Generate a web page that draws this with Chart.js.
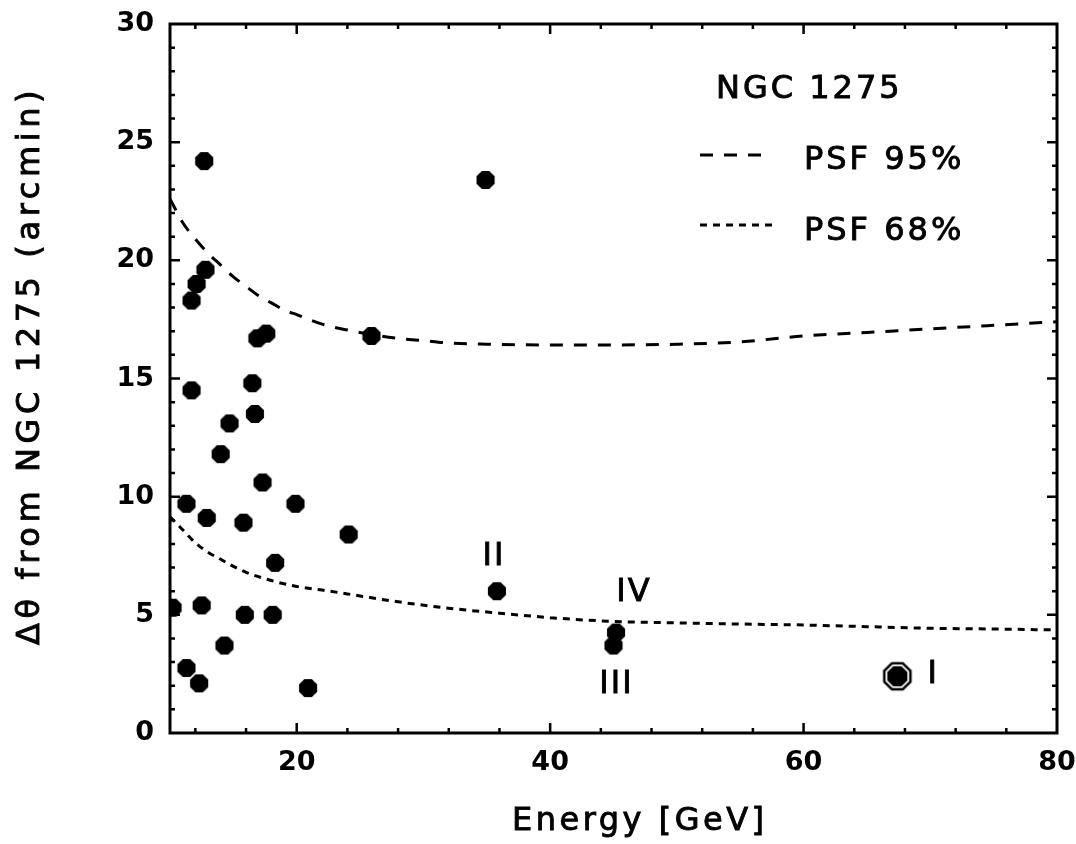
<!DOCTYPE html>
<html>
<head>
<meta charset="utf-8">
<title>NGC 1275 photon offsets</title>
<script src="https://cdn.jsdelivr.net/npm/chart.js@4.4.1/dist/chart.umd.min.js"></script>
<style>
  html, body { margin: 0; padding: 0; background: #fff; }
</style>
</head>
<body>
<canvas id="chart" width="1076" height="844"></canvas>
<script>
'use strict';

// photon energies (GeV) and offsets from NGC 1275 (arcmin)
var energy = [12.7, 34.9, 12.8, 12.1, 11.7, 17.6, 16.9, 25.9, 11.7, 16.5, 16.7, 14.7,
              14.0, 17.3, 11.3, 19.9, 12.9, 15.8, 24.1, 18.3, 35.8, 10.2, 12.5, 15.9,
              18.1, 14.3, 11.3, 12.3, 20.9, 45.2, 45.0];
var offset = [24.2, 23.4, 19.6, 19.0, 18.3, 16.9, 16.7, 16.8, 14.5, 14.8, 13.5, 13.1,
              11.8, 10.6, 9.7, 9.7, 9.1, 8.9, 8.4, 7.2, 6.0, 5.3, 5.4, 5.0,
              5.0, 3.7, 2.75, 2.1, 1.9, 4.25, 3.7];

// highest energy photon, marked "I"
var eventI = { x: 67.4, y: 2.4 };

// PSF containment radii
var psf95E = [10, 11, 12, 13, 14, 15, 16, 17, 18, 19, 20, 22, 24, 26, 28, 30, 32, 35, 40, 45, 50, 55, 60, 65, 70, 75, 80];
var psf95 = [22.6, 21.6, 20.9, 20.3, 19.8, 19.3, 18.9, 18.5, 18.2, 17.9, 17.7, 17.3, 17.05, 16.85, 16.7, 16.6, 16.5, 16.45, 16.42, 16.42, 16.45, 16.55, 16.8, 16.95, 17.1, 17.25, 17.4];
var psf68E = [10, 11, 12, 13, 14, 15, 16, 18, 20, 22, 25, 28, 32, 36, 40, 45, 50, 55, 60, 65, 70, 75, 80];
var psf68 = [9.15, 8.6, 8.05, 7.65, 7.35, 7.05, 6.8, 6.45, 6.2, 6.05, 5.8, 5.55, 5.28, 5.07, 4.88, 4.72, 4.66, 4.61, 4.57, 4.5, 4.43, 4.4, 4.36];

var xTicks = [20, 40, 60, 80];
var yTicks = [0, 5, 10, 15, 20, 25, 30];

var xTitle = 'Energy [GeV]';
var yTitle = 'Δθ from NGC 1275 (arcmin)';

var dash95 = [13, 11];
var dash68 = [7, 6];

function pairs(xs, ys) {
  return xs.map(function(x, i) { return { x: x, y: ys[i] }; });
}

function octagon(ctx, cx, cy, r) {
  ctx.beginPath();
  for (var k = 0; k < 8; k++) {
    var a = Math.PI / 8 + k * Math.PI / 4;
    var px = cx + r * Math.cos(a), py = cy + r * Math.sin(a);
    if (k === 0) ctx.moveTo(px, py); else ctx.lineTo(px, py);
  }
  ctx.closePath();
}

// filled octagon marker
var dot = document.createElement('canvas');
dot.width = 20; dot.height = 20;
(function() {
  var c = dot.getContext('2d');
  c.fillStyle = '#000';
  octagon(c, 10, 10, 9.8);
  c.fill();
})();

// ringed marker for event I
var ringDot = document.createElement('canvas');
ringDot.width = 32; ringDot.height = 32;
(function() {
  var c = ringDot.getContext('2d');
  c.fillStyle = '#000';
  octagon(c, 16, 16, 15.5);
  c.fill();
  c.fillStyle = '#fff';
  octagon(c, 16, 16, 12.8);
  c.fill();
  c.fillStyle = '#000';
  octagon(c, 16, 16, 10.8);
  c.fill();
})();

var TEXT_FONT = '32px "DejaVu Sans"';

// fill + thin stroke so the text looks as heavy as the original
function heavyText(ctx, txt, x, y) {
  ctx.fillText(txt, x, y);
  ctx.strokeText(txt, x, y);
}

var framePlugin = {
  id: 'frame',
  afterDraw: function(chart) {
    var ctx = chart.ctx, a = chart.chartArea;
    var xs = chart.scales.x, ys = chart.scales.y;
    ctx.save();
    ctx.strokeStyle = '#000';
    ctx.lineWidth = 3;
    ctx.strokeRect(a.left, a.top, a.right - a.left, a.bottom - a.top);

    // inward ticks on all four sides
    ctx.lineWidth = 2.5;
    ctx.beginPath();
    var v, p, len;
    for (v = 12; v < 80; v += 4) {
      p = xs.getPixelForValue(v);
      len = (v % 20 === 0) ? 10 : 5;
      ctx.moveTo(p, a.bottom); ctx.lineTo(p, a.bottom - len);
      ctx.moveTo(p, a.top); ctx.lineTo(p, a.top + len);
    }
    for (v = 1; v < 30; v++) {
      p = ys.getPixelForValue(v);
      len = (v % 5 === 0) ? 10 : 5;
      ctx.moveTo(a.left, p); ctx.lineTo(a.left + len, p);
      ctx.moveTo(a.right, p); ctx.lineTo(a.right - len, p);
    }
    ctx.stroke();

    ctx.fillStyle = '#000';
    ctx.font = TEXT_FONT;
    ctx.lineWidth = 0.9;
    ctx.textBaseline = 'middle';
    ctx.textAlign = 'left';

    // axis titles
    ctx.letterSpacing = '3.5px';
    heavyText(ctx, xTitle, 512, 822);
    ctx.save();
    ctx.translate(31, 645);
    ctx.rotate(-Math.PI / 2);
    ctx.letterSpacing = '4.6px';
    heavyText(ctx, yTitle, 0, 0);
    ctx.restore();

    // legend
    ctx.letterSpacing = '3px';
    heavyText(ctx, 'NGC 1275', 716, 90);
    heavyText(ctx, 'PSF 95%', 804, 161);
    heavyText(ctx, 'PSF 68%', 804, 232);
    ctx.lineWidth = 3;
    ctx.setLineDash(dash95);
    ctx.beginPath(); ctx.moveTo(700, 155); ctx.lineTo(768, 155); ctx.stroke();
    ctx.setLineDash(dash68);
    ctx.beginPath(); ctx.moveTo(700, 225); ctx.lineTo(776, 225); ctx.stroke();
    ctx.setLineDash([]);

    // event tags
    ctx.lineWidth = 0.9;
    ctx.textAlign = 'center';
    ctx.letterSpacing = '2px';
    var tag = function(txt, pt, dx, dy) {
      heavyText(ctx, txt, xs.getPixelForValue(pt.x) + dx, ys.getPixelForValue(pt.y) + dy);
    };
    tag('I', eventI, 36, -2);
    tag('II', { x: energy[20], y: offset[20] }, -3, -35);
    tag('IV', { x: energy[29], y: offset[29] }, 18, -40);
    tag('III', { x: energy[30], y: offset[30] }, 3, 39);
    ctx.restore();
  }
};

var tickFont = { family: 'DejaVu Sans', size: 27, weight: 'bold', lineHeight: 1 };

new Chart(document.getElementById('chart').getContext('2d'), {
  type: 'scatter',
  data: {
    datasets: [
      {
        label: 'PSF 95%',
        type: 'line',
        data: pairs(psf95E, psf95),
        borderColor: '#000',
        borderWidth: 3,
        borderDash: dash95,
        pointRadius: 0,
        fill: false,
        cubicInterpolationMode: 'monotone'
      },
      {
        label: 'PSF 68%',
        type: 'line',
        data: pairs(psf68E, psf68),
        borderColor: '#000',
        borderWidth: 3,
        borderDash: dash68,
        pointRadius: 0,
        fill: false,
        cubicInterpolationMode: 'monotone'
      },
      {
        label: 'events',
        data: pairs(energy, offset),
        pointStyle: dot,
        pointRadius: 10,
        backgroundColor: '#000',
        borderColor: '#000'
      },
      {
        label: 'event I',
        data: [eventI],
        pointStyle: ringDot,
        pointRadius: 16,
        backgroundColor: '#000',
        borderColor: '#000'
      }
    ]
  },
  options: {
    responsive: false,
    animation: false,
    layout: { padding: { top: 24, right: 19, left: 0, bottom: 0 } },
    plugins: {
      legend: { display: false },
      tooltip: { enabled: false }
    },
    scales: {
      x: {
        type: 'linear',
        min: 10,
        max: 80,
        afterBuildTicks: function(s) { s.ticks = xTicks.map(function(v) { return { value: v }; }); },
        afterFit: function(s) { s.height = 111; s.paddingLeft = 0; s.paddingRight = 0; },
        grid: { display: false, drawTicks: false },
        border: { display: false },
        ticks: { color: '#000', font: tickFont, padding: 16, maxRotation: 0 }
      },
      y: {
        type: 'linear',
        min: 0,
        max: 30,
        afterBuildTicks: function(s) { s.ticks = yTicks.map(function(v) { return { value: v }; }); },
        afterFit: function(s) { s.width = 170; s.paddingTop = 0; s.paddingBottom = 0; },
        grid: { display: false, drawTicks: false },
        border: { display: false },
        ticks: { color: '#000', font: tickFont, padding: 16 }
      }
    }
  },
  plugins: [framePlugin]
});
</script>
</body>
</html>
